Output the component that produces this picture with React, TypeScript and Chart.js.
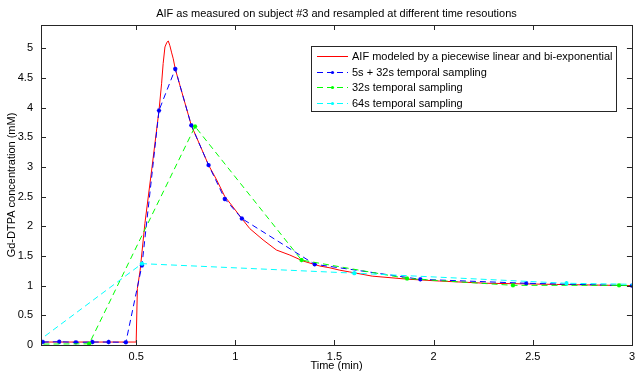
import React, { useEffect, useRef } from "react";
import { Chart, registerables } from "chart.js";

Chart.register(...registerables);

const titleText = "AIF as measured on subject #3 and resampled at different time resoutions";
const xLabel = "Time (min)";
const yLabel = "Gd-DTPA concentration (mM)";

const xTicks = [0.5, 1, 1.5, 2, 2.5, 3];
const yTicks = [0, 0.5, 1, 1.5, 2, 2.5, 3, 3.5, 4, 4.5, 5];

const seriesLabels = [
  "AIF modeled by a piecewise linear and bi-exponential",
  "5s + 32s temporal sampling",
  "32s temporal sampling",
  "64s temporal sampling",
];

const redX = [0.0, 0.5, 0.506, 0.52, 0.544, 0.58, 0.615, 0.628, 0.636, 0.645, 0.655, 0.662, 0.67, 0.679, 0.687, 0.697, 0.737, 0.778, 0.821, 0.865, 0.906, 0.947, 0.973, 1.035, 1.073, 1.14, 1.207, 1.275, 1.342, 1.426, 1.477, 1.527, 1.577, 1.69, 1.863, 2.03, 2.266, 2.45, 2.62, 2.8, 3.0];
const redY = [0.05, 0.05, 0.95, 1.26, 2.05, 3.0, 3.95, 4.4, 4.74, 5.02, 5.1, 5.12, 5.04, 4.92, 4.82, 4.65, 4.18, 3.7, 3.37, 3.03, 2.78, 2.5, 2.39, 2.12, 1.96, 1.77, 1.6, 1.515, 1.414, 1.33, 1.3, 1.26, 1.23, 1.16, 1.11, 1.077, 1.04, 1.03, 1.02, 1.01, 1.0];

const blueX = [0.029, 0.112, 0.196, 0.279, 0.361, 0.448, 0.529, 0.615, 0.697, 0.778, 0.865, 0.947, 1.033, 1.4, 1.933, 2.467, 3.0];
const blueY = [0.05, 0.055, 0.045, 0.05, 0.05, 0.045, 1.34, 3.95, 4.65, 3.7, 3.03, 2.46, 2.13, 1.36, 1.106, 1.04, 1.0];

const greenX = [-0.27, 0.263, 0.797, 1.334, 1.866, 2.4, 2.935, 3.47];
const greenY = [0.01, 0.02, 3.68, 1.43, 1.12, 1.005, 1.005, 0.99];

const cyanX = [0.0, 0.529, 1.6, 2.67, 3.73];
const cyanY = [0.05, 1.37, 1.21, 1.04, 0.985];

const FONT = "'Liberation Sans', Arial, Helvetica, sans-serif";

const toPts = (xs: number[], ys: number[]) => xs.map((x, i) => ({ x, y: ys[i] }));

const legendStyles = [
  { color: "#ff0000", dash: [] as number[], marker: false },
  { color: "#0000ff", dash: [6, 4], marker: true },
  { color: "#00ff00", dash: [6, 4], marker: true },
  { color: "#00ffff", dash: [6, 4], marker: true },
];

const framePlugin = {
  id: "frame",
  afterDraw(chart: any) {
    const { ctx, chartArea } = chart;
    const { left, right, top, bottom } = chartArea;
    const xs = chart.scales.x;
    const ys = chart.scales.y;
    ctx.save();
    ctx.strokeStyle = "#262626";
    ctx.lineWidth = 1;
    ctx.setLineDash([]);
    ctx.strokeRect(Math.round(left) + 0.5, Math.round(top) + 0.5, Math.round(right - left), Math.round(bottom - top));
    const tl = 5;
    ctx.beginPath();
    xTicks.forEach((v) => {
      const px = Math.round(xs.getPixelForValue(v)) + 0.5;
      ctx.moveTo(px, bottom);
      ctx.lineTo(px, bottom - tl);
      ctx.moveTo(px, top);
      ctx.lineTo(px, top + tl);
    });
    yTicks.forEach((v) => {
      const py = Math.round(ys.getPixelForValue(v)) + 0.5;
      ctx.moveTo(left, py);
      ctx.lineTo(left + tl, py);
      ctx.moveTo(right, py);
      ctx.lineTo(right - tl, py);
    });
    ctx.stroke();

    // titles
    ctx.fillStyle = "#000";
    ctx.font = `11px ${FONT}`;
    ctx.textAlign = "center";
    ctx.textBaseline = "middle";
    ctx.fillText(titleText, (left + right) / 2, 14);
    ctx.fillText(xLabel, (left + right) / 2, 366);
    ctx.save();
    ctx.translate(12, (top + bottom) / 2);
    ctx.rotate(-Math.PI / 2);
    ctx.fillText(yLabel, 0, 0);
    ctx.restore();

    // legend
    const bx = 311, by = 46, bw = 305, bh = 65;
    ctx.fillStyle = "#fff";
    ctx.fillRect(bx, by, bw, bh);
    ctx.strokeStyle = "#262626";
    ctx.strokeRect(bx + 0.5, by + 0.5, bw, bh);
    ctx.textAlign = "left";
    seriesLabels.forEach((lab, i) => {
      const st = legendStyles[i];
      const y = Math.round(56 + i * 15.7) + 0.5;
      ctx.strokeStyle = st.color;
      ctx.setLineDash(st.dash);
      ctx.beginPath();
      ctx.moveTo(317, y);
      ctx.lineTo(348, y);
      ctx.stroke();
      ctx.setLineDash([]);
      if (st.marker) {
        ctx.fillStyle = st.color;
        ctx.beginPath();
        ctx.arc(332.5, y, 1.6, 0, Math.PI * 2);
        ctx.fill();
      }
      ctx.fillStyle = "#000";
      ctx.fillText(lab, 352, y);
    });
    ctx.restore();
  },
};

export default function App() {
  const ref = useRef<HTMLCanvasElement | null>(null);
  useEffect(() => {
    if (!ref.current) return;
    const mk = (i: number, xs: number[], ys: number[], marker: boolean) => ({
      label: seriesLabels[i],
      data: toPts(xs, ys),
      borderColor: legendStyles[i].color,
      backgroundColor: legendStyles[i].color,
      borderWidth: 1,
      borderDash: legendStyles[i].dash,
      pointRadius: marker ? 2.2 : 0,
      pointStyle: "star",
      pointBorderWidth: 1.2,
      pointBorderColor: legendStyles[i].color,
      tension: 0,
      fill: false,
    });
    const chart = new Chart(ref.current, {
      type: "line",
      data: {
        datasets: [
          mk(3, cyanX, cyanY, true),
          mk(2, greenX, greenY, true),
          mk(1, blueX, blueY, true),
          mk(0, redX, redY, false),
        ] as any,
      },
      options: {
        animation: false,
        responsive: false,
        layout: { padding: { top: 25, right: 7, left: 0, bottom: 0 } },
        plugins: { legend: { display: false }, title: { display: false }, tooltip: { enabled: false } },
        scales: {
          x: {
            type: "linear",
            min: 0.02,
            max: 3,
            grid: { display: false, drawTicks: false },
            border: { display: false },
            afterBuildTicks: (s: any) => { s.ticks = xTicks.map((v) => ({ value: v })); },
            afterFit: (s: any) => { s.height = 28; },
            ticks: { color: "#000", font: { family: FONT, size: 11 }, padding: 5, maxRotation: 0, autoSkip: false, callback: (v: any) => String(v) },
          },
          y: {
            type: "linear",
            min: 0,
            max: 5.39,
            grid: { display: false, drawTicks: false },
            border: { display: false },
            afterBuildTicks: (s: any) => { s.ticks = yTicks.map((v) => ({ value: v })); },
            afterFit: (s: any) => { s.width = 41; },
            ticks: { color: "#000", font: { family: FONT, size: 11 }, padding: 8, autoSkip: false, callback: (v: any) => String(v) },
          },
        },
      } as any,
      plugins: [framePlugin],
    });
    return () => chart.destroy();
  }, []);
  return (
    <div style={{ position: "fixed", left: 0, top: 0, width: 640, height: 373, background: "#fff" }}>
      <canvas ref={ref} width={640} height={373} />
    </div>
  );
}
